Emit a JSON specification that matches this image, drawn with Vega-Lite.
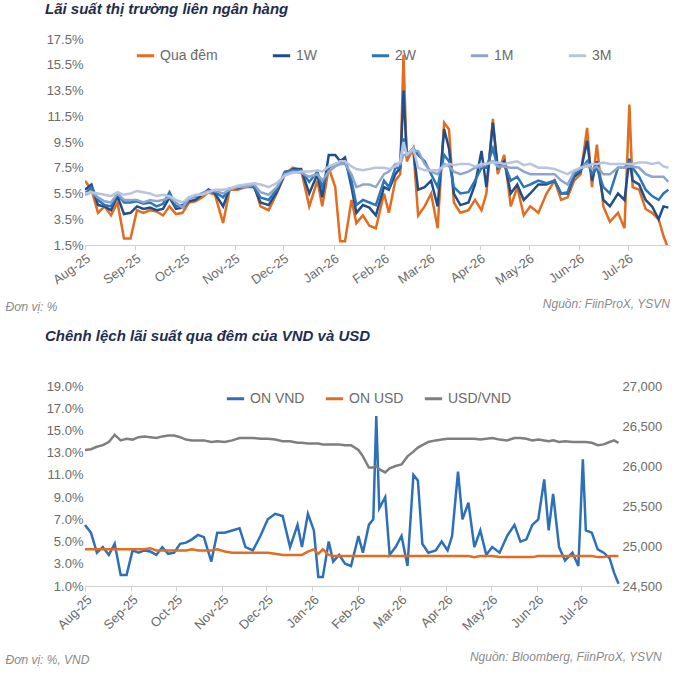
{
  "$schema": "https://vega.github.io/schema/vega-lite/v6.json",
  "padding": {"left": 5, "top": 2, "right": 5, "bottom": 0},
  "config": {
    "font": "Liberation Sans",
    "view": {"stroke": null},
    "axis": {"grid": false, "labelColor": "#6b6b6b", "labelFontSize": 13, "domainColor": "#d0d0d0", "tickColor": "#d0d0d0", "titleColor": "#8a8a8a", "titleFontWeight": "normal", "titleFontStyle": "italic", "titleFontSize": 12},
    "title": {"font": "Liberation Sans", "fontSize": 15, "fontStyle": "italic", "fontWeight": "bold", "color": "#1f2d4d"},
    "legend": {"labelFontSize": 14, "labelColor": "#6b6b6b", "symbolType": "stroke", "symbolStrokeWidth": 3, "symbolSize": 300}
  },
  "resolve": {"scale": {"color": "independent"}},
  "datasets": {
    "rates": [
      {"d":"2025-08-01","on":6.5,"w1":5.8,"w2":5.5,"m1":5.4,"m3":5.5,"usd":4.3,"fx":26200},
      {"d":"2025-08-05","on":5.8,"w1":6.2,"w2":6.0,"m1":5.6,"m3":5.6,"usd":4.3,"fx":26210},
      {"d":"2025-08-09","on":4.0,"w1":4.6,"w2":5.0,"m1":5.2,"m3":5.5,"usd":4.3,"fx":26240},
      {"d":"2025-08-13","on":4.5,"w1":4.5,"w2":4.6,"m1":4.9,"m3":5.4,"usd":4.3,"fx":26260},
      {"d":"2025-08-17","on":3.8,"w1":4.2,"w2":4.5,"m1":4.8,"m3":5.3,"usd":4.3,"fx":26300},
      {"d":"2025-08-21","on":4.8,"w1":5.3,"w2":5.5,"m1":5.5,"m3":5.6,"usd":4.3,"fx":26390},
      {"d":"2025-08-25","on":2.0,"w1":3.9,"w2":4.8,"m1":5.0,"m3":5.4,"usd":4.3,"fx":26320},
      {"d":"2025-08-29","on":2.0,"w1":4.0,"w2":4.8,"m1":5.0,"m3":5.5,"usd":4.3,"fx":26340},
      {"d":"2025-09-02","on":4.2,"w1":4.5,"w2":4.9,"m1":5.0,"m3":5.7,"usd":4.3,"fx":26330},
      {"d":"2025-09-06","on":4.0,"w1":4.3,"w2":4.7,"m1":4.8,"m3":5.6,"usd":4.3,"fx":26360},
      {"d":"2025-09-10","on":4.2,"w1":4.4,"w2":4.8,"m1":5.0,"m3":5.5,"usd":4.3,"fx":26370},
      {"d":"2025-09-14","on":4.1,"w1":4.2,"w2":4.5,"m1":4.9,"m3":5.3,"usd":4.4,"fx":26360},
      {"d":"2025-09-18","on":3.8,"w1":4.3,"w2":4.7,"m1":5.0,"m3":5.4,"usd":4.2,"fx":26350},
      {"d":"2025-09-22","on":4.5,"w1":5.2,"w2":5.6,"m1":5.2,"m3":5.3,"usd":4.2,"fx":26370},
      {"d":"2025-09-26","on":3.9,"w1":4.3,"w2":4.5,"m1":4.8,"m3":5.0,"usd":4.2,"fx":26380},
      {"d":"2025-09-30","on":4.0,"w1":4.4,"w2":4.6,"m1":4.4,"m3":4.8,"usd":4.2,"fx":26380},
      {"d":"2025-10-04","on":4.8,"w1":4.9,"w2":5.2,"m1":5.1,"m3":5.2,"usd":4.2,"fx":26360},
      {"d":"2025-10-08","on":4.9,"w1":5.0,"w2":5.2,"m1":5.3,"m3":5.4,"usd":4.2,"fx":26330},
      {"d":"2025-10-12","on":5.2,"w1":5.4,"w2":5.5,"m1":5.5,"m3":5.4,"usd":4.3,"fx":26320},
      {"d":"2025-10-16","on":5.6,"w1":5.8,"w2":5.7,"m1":5.7,"m3":5.6,"usd":4.2,"fx":26320},
      {"d":"2025-10-20","on":5.4,"w1":5.5,"w2":5.6,"m1":5.7,"m3":5.8,"usd":4.2,"fx":26320},
      {"d":"2025-10-25","on":3.2,"w1":4.5,"w2":5.2,"m1":5.5,"m3":5.8,"usd":4.2,"fx":26300},
      {"d":"2025-10-29","on":5.8,"w1":5.9,"w2":5.9,"m1":5.8,"m3":5.9,"usd":4.3,"fx":26310},
      {"d":"2025-11-03","on":5.8,"w1":5.9,"w2":6.0,"m1":6.0,"m3":6.1,"usd":4.1,"fx":26300},
      {"d":"2025-11-08","on":6.0,"w1":6.1,"w2":6.0,"m1":6.0,"m3":6.2,"usd":4.0,"fx":26320},
      {"d":"2025-11-13","on":6.2,"w1":6.0,"w2":6.0,"m1":6.2,"m3":6.3,"usd":4.0,"fx":26350},
      {"d":"2025-11-17","on":4.5,"w1":4.8,"w2":5.2,"m1":5.6,"m3":6.2,"usd":4.0,"fx":26350},
      {"d":"2025-11-22","on":4.2,"w1":4.6,"w2":5.0,"m1":5.4,"m3":6.0,"usd":4.0,"fx":26350},
      {"d":"2025-11-27","on":5.5,"w1":5.6,"w2":5.8,"m1":6.0,"m3":6.3,"usd":4.0,"fx":26340},
      {"d":"2025-12-02","on":7.0,"w1":7.0,"w2":7.2,"m1":7.0,"m3":6.9,"usd":4.0,"fx":26340},
      {"d":"2025-12-07","on":7.5,"w1":7.4,"w2":7.3,"m1":7.2,"m3":7.1,"usd":3.9,"fx":26330},
      {"d":"2025-12-12","on":7.3,"w1":7.4,"w2":7.3,"m1":7.1,"m3":7.2,"usd":3.8,"fx":26310},
      {"d":"2025-12-17","on":4.5,"w1":5.5,"w2":6.4,"m1":6.8,"m3":7.2,"usd":3.8,"fx":26310},
      {"d":"2025-12-22","on":6.5,"w1":7.0,"w2":7.2,"m1":7.0,"m3":7.3,"usd":3.8,"fx":26290},
      {"d":"2025-12-25","on":4.5,"w1":5.2,"w2":6.0,"m1":6.5,"m3":7.2,"usd":3.8,"fx":26290},
      {"d":"2025-12-29","on":7.5,"w1":8.5,"w2":7.5,"m1":7.2,"m3":7.6,"usd":4.1,"fx":26280},
      {"d":"2026-01-02","on":6.0,"w1":8.5,"w2":7.8,"m1":7.6,"m3":7.8,"usd":4.3,"fx":26280},
      {"d":"2026-01-05","on":1.8,"w1":8.0,"w2":7.8,"m1":7.8,"m3":8.0,"usd":3.9,"fx":26280},
      {"d":"2026-01-08","on":1.8,"w1":8.3,"w2":8.0,"m1":7.8,"m3":8.0,"usd":4.3,"fx":26270},
      {"d":"2026-01-12","on":5.0,"w1":6.0,"w2":6.5,"m1":7.0,"m3":7.6,"usd":3.8,"fx":26270},
      {"d":"2026-01-15","on":3.2,"w1":4.0,"w2":4.6,"m1":6.0,"m3":7.4,"usd":3.7,"fx":26270},
      {"d":"2026-01-19","on":3.8,"w1":4.6,"w2":5.0,"m1":6.2,"m3":7.3,"usd":3.7,"fx":26270},
      {"d":"2026-01-23","on":3.0,"w1":4.4,"w2":4.8,"m1":6.2,"m3":7.4,"usd":3.7,"fx":26260},
      {"d":"2026-01-27","on":2.8,"w1":3.8,"w2":4.6,"m1":6.0,"m3":7.5,"usd":3.7,"fx":26260},
      {"d":"2026-02-01","on":5.5,"w1":6.0,"w2":6.5,"m1":7.0,"m3":7.5,"usd":3.7,"fx":26200},
      {"d":"2026-02-04","on":4.0,"w1":5.8,"w2":6.0,"m1":7.2,"m3":7.4,"usd":3.7,"fx":26120},
      {"d":"2026-02-08","on":6.5,"w1":7.0,"w2":7.5,"m1":7.8,"m3":7.6,"usd":3.7,"fx":25980},
      {"d":"2026-02-11","on":7.0,"w1":7.5,"w2":7.5,"m1":7.8,"m3":8.0,"usd":3.7,"fx":25980},
      {"d":"2026-02-13","on":16.3,"w1":13.5,"w2":9.8,"m1":8.5,"m3":9.5,"usd":3.7,"fx":26000},
      {"d":"2026-02-15","on":8.0,"w1":8.5,"w2":8.5,"m1":8.5,"m3":8.5,"usd":3.7,"fx":25960},
      {"d":"2026-02-19","on":9.0,"w1":9.0,"w2":9.0,"m1":8.8,"m3":9.0,"usd":3.7,"fx":25920},
      {"d":"2026-02-22","on":3.8,"w1":5.8,"w2":8.5,"m1":8.8,"m3":7.5,"usd":3.7,"fx":25970},
      {"d":"2026-02-26","on":4.5,"w1":6.0,"w2":8.0,"m1":7.8,"m3":7.3,"usd":3.7,"fx":26000},
      {"d":"2026-03-02","on":5.5,"w1":6.5,"w2":7.0,"m1":7.2,"m3":7.3,"usd":3.7,"fx":26020},
      {"d":"2026-03-06","on":2.8,"w1":4.5,"w2":6.0,"m1":7.0,"m3":7.3,"usd":3.7,"fx":26120},
      {"d":"2026-03-10","on":11.0,"w1":10.5,"w2":8.5,"m1":7.8,"m3":7.6,"usd":3.7,"fx":26180},
      {"d":"2026-03-13","on":10.5,"w1":9.0,"w2":8.0,"m1":7.6,"m3":7.8,"usd":3.7,"fx":26230},
      {"d":"2026-03-16","on":4.8,"w1":5.5,"w2":6.0,"m1":7.2,"m3":7.7,"usd":3.7,"fx":26260},
      {"d":"2026-03-20","on":4.0,"w1":4.6,"w2":5.5,"m1":7.0,"m3":7.8,"usd":3.7,"fx":26300},
      {"d":"2026-03-25","on":4.2,"w1":4.8,"w2":5.6,"m1":7.2,"m3":7.8,"usd":3.7,"fx":26320},
      {"d":"2026-03-29","on":5.0,"w1":6.2,"w2":6.5,"m1":7.5,"m3":7.6,"usd":3.7,"fx":26330},
      {"d":"2026-04-02","on":4.2,"w1":8.8,"w2":7.5,"m1":7.6,"m3":7.8,"usd":3.7,"fx":26340},
      {"d":"2026-04-05","on":5.5,"w1":6.0,"w2":7.5,"m1":7.8,"m3":7.8,"usd":3.7,"fx":26340},
      {"d":"2026-04-09","on":11.3,"w1":11.0,"w2":9.0,"m1":8.0,"m3":7.9,"usd":3.7,"fx":26340},
      {"d":"2026-04-12","on":7.0,"w1":7.5,"w2":7.5,"m1":7.6,"m3":7.9,"usd":3.7,"fx":26340},
      {"d":"2026-04-16","on":8.5,"w1":8.0,"w2":7.8,"m1":7.6,"m3":7.8,"usd":3.7,"fx":26340},
      {"d":"2026-04-20","on":4.5,"w1":5.5,"w2":6.5,"m1":7.5,"m3":7.9,"usd":3.6,"fx":26340},
      {"d":"2026-04-24","on":6.0,"w1":6.2,"w2":6.8,"m1":7.5,"m3":8.0,"usd":3.7,"fx":26330},
      {"d":"2026-04-28","on":3.8,"w1":5.0,"w2":6.0,"m1":7.2,"m3":7.7,"usd":3.7,"fx":26340},
      {"d":"2026-05-02","on":4.5,"w1":5.5,"w2":6.2,"m1":7.0,"m3":7.8,"usd":3.7,"fx":26350},
      {"d":"2026-05-07","on":4.0,"w1":6.2,"w2":6.5,"m1":7.0,"m3":7.5,"usd":3.6,"fx":26330},
      {"d":"2026-05-12","on":5.5,"w1":6.2,"w2":6.3,"m1":7.0,"m3":7.5,"usd":3.6,"fx":26320},
      {"d":"2026-05-17","on":6.5,"w1":6.5,"w2":6.5,"m1":7.0,"m3":7.4,"usd":3.6,"fx":26350},
      {"d":"2026-05-21","on":5.0,"w1":5.5,"w2":5.5,"m1":6.5,"m3":7.2,"usd":3.6,"fx":26350},
      {"d":"2026-05-25","on":5.2,"w1":5.5,"w2":5.6,"m1":6.2,"m3":7.0,"usd":3.6,"fx":26340},
      {"d":"2026-05-29","on":6.5,"w1":6.8,"w2":7.0,"m1":7.2,"m3":7.3,"usd":3.6,"fx":26320},
      {"d":"2026-06-02","on":7.0,"w1":7.2,"w2":7.3,"m1":7.5,"m3":7.5,"usd":3.7,"fx":26330},
      {"d":"2026-06-06","on":10.6,"w1":9.6,"w2":8.0,"m1":7.8,"m3":7.6,"usd":3.7,"fx":26320},
      {"d":"2026-06-09","on":6.0,"w1":6.5,"w2":7.0,"m1":7.4,"m3":7.8,"usd":3.7,"fx":26310},
      {"d":"2026-06-12","on":9.3,"w1":8.0,"w2":7.5,"m1":7.6,"m3":7.8,"usd":3.7,"fx":26320},
      {"d":"2026-06-16","on":4.5,"w1":5.0,"w2":6.0,"m1":7.0,"m3":7.9,"usd":3.7,"fx":26300},
      {"d":"2026-06-20","on":3.3,"w1":4.5,"w2":5.5,"m1":7.0,"m3":7.8,"usd":3.7,"fx":26310},
      {"d":"2026-06-25","on":4.0,"w1":5.5,"w2":7.5,"m1":7.5,"m3":7.8,"usd":3.7,"fx":26300},
      {"d":"2026-06-29","on":2.8,"w1":5.0,"w2":7.5,"m1":7.5,"m3":7.8,"usd":3.7,"fx":26300},
      {"d":"2026-07-02","on":12.4,"w1":8.2,"w2":8.0,"m1":7.6,"m3":7.8,"usd":3.7,"fx":26300},
      {"d":"2026-07-04","on":6.0,"w1":6.5,"w2":7.5,"m1":7.6,"m3":7.8,"usd":3.7,"fx":26300},
      {"d":"2026-07-08","on":5.8,"w1":6.2,"w2":6.8,"m1":7.5,"m3":7.9,"usd":3.7,"fx":26290},
      {"d":"2026-07-12","on":4.3,"w1":5.0,"w2":5.8,"m1":7.0,"m3":7.9,"usd":3.6,"fx":26260},
      {"d":"2026-07-16","on":4.0,"w1":4.5,"w2":5.3,"m1":6.8,"m3":7.8,"usd":3.6,"fx":26270},
      {"d":"2026-07-20","on":3.5,"w1":3.5,"w2":5.0,"m1":6.8,"m3":7.9,"usd":3.7,"fx":26300},
      {"d":"2026-07-23","on":2.2,"w1":4.5,"w2":5.5,"m1":6.8,"m3":7.6,"usd":3.7,"fx":26320},
      {"d":"2026-07-26","on":1.2,"w1":4.4,"w2":5.8,"m1":6.4,"m3":7.5,"usd":3.7,"fx":26290}
    ]
  },
  "vconcat": [
    {
      "title": {"text": "Nguồn: FiinProX, YSVN", "orient": "bottom", "anchor": "end", "fontSize": 12, "fontWeight": "normal", "color": "#8a8a8a", "offset": -14},
      "resolve": {"scale": {"color": "independent"}},
      "vconcat": [
        {
          "title": {"text": "Lãi suất thị trường liên ngân hàng", "anchor": "start", "offset": 16, "dx": 40},
          "width": 585,
          "height": 206,
          "data": {"name": "rates"},
          "transform": [{"fold": ["on", "w1", "w2", "m1", "m3"], "as": ["s", "v"]}],
          "mark": {"type": "line", "strokeWidth": 2.5, "clip": true},
          "encoding": {
            "x": {"field": "d", "type": "temporal", "scale": {"domain": ["2025-08-01", "2026-07-27"]},
              "axis": {"format": "%b-%y", "tickCount": {"interval": "month", "step": 1}, "labelAngle": -35, "labelAlign": "right", "labelFontSize": 13, "title": "Đơn vị: %", "titleAnchor": "start", "titleX": -80, "titleAlign": "left", "titlePadding": 14}},
            "y": {"field": "v", "type": "quantitative", "scale": {"domain": [1.5, 17.5], "nice": false},
              "axis": {"values": [1.5, 3.5, 5.5, 7.5, 9.5, 11.5, 13.5, 15.5, 17.5], "labelExpr": "format(datum.value, '.1f') + '%'", "domain": false, "ticks": false, "title": null}},
            "color": {"field": "s", "type": "nominal",
              "scale": {"domain": ["on", "w1", "w2", "m1", "m3"], "range": ["#e36c1e", "#1f4e8c", "#2e75b6", "#8ea6cf", "#b9c4de"]},
              "legend": {"title": null, "orient": "none", "direction": "horizontal", "legendX": 50, "legendY": 6, "columnPadding": 48,
                "labelExpr": "{'on':'Qua đêm','w1':'1W','w2':'2W','m1':'1M','m3':'3M'}[datum.label]"}}
          }
        }
      ]
    },
    {
      "title": {"text": "Nguồn: Bloomberg, FiinProX, YSVN", "orient": "bottom", "anchor": "end", "fontSize": 12, "fontWeight": "normal", "color": "#8a8a8a", "offset": -14},
      "resolve": {"scale": {"color": "independent"}},
      "vconcat": [
        {
          "title": {"text": "Chênh lệch lãi suất qua đêm của VND và USD", "anchor": "start", "offset": 36, "dx": 40},
          "width": 535,
          "height": 200,
          "data": {"name": "rates"},
          "encoding": {
            "x": {"field": "d", "type": "temporal", "scale": {"domain": ["2025-08-01", "2026-07-27"]},
              "axis": {"format": "%b-%y", "tickCount": {"interval": "month", "step": 1}, "labelAngle": -45, "labelAlign": "right", "labelFontSize": 13, "title": "Đơn vị: %, VND", "titleAnchor": "start", "titleX": -80, "titleAlign": "left", "titlePadding": 22}}
          },
          "layer": [
            {
              "transform": [{"fold": ["on", "usd"], "as": ["s", "v"]}],
              "mark": {"type": "line", "strokeWidth": 2.5},
              "encoding": {
                "y": {"field": "v", "type": "quantitative", "scale": {"domain": [1, 19], "nice": false},
                  "axis": {"values": [1, 3, 5, 7, 9, 11, 13, 15, 17, 19], "labelExpr": "format(datum.value, '.1f') + '%'", "domain": false, "ticks": false, "title": null}},
                "color": {"field": "s", "type": "nominal",
                  "scale": {"domain": ["on", "usd", "fx"], "range": ["#2e6fba", "#e36c1e", "#7f7f7f"]},
                  "legend": {"title": null, "orient": "none", "direction": "horizontal", "legendX": 140, "legendY": 2, "columnPadding": 14,
                    "labelExpr": "{'on':'ON VND','usd':'ON USD','fx':'USD/VND'}[datum.label]"}}
              }
            },
            {
              "transform": [{"fold": ["fx"], "as": ["s", "v"]}],
              "mark": {"type": "line", "strokeWidth": 2.5},
              "encoding": {
                "y": {"field": "v", "type": "quantitative", "scale": {"domain": [24500, 27000], "nice": false},
                  "axis": {"orient": "right", "values": [24500, 25000, 25500, 26000, 26500, 27000], "labelExpr": "format(datum.value, ',')", "domain": false, "ticks": false, "title": null}},
                "color": {"field": "s", "type": "nominal"}
              }
            }
          ],
          "resolve": {"scale": {"y": "independent"}}
        }
      ]
    }
  ],
  "spacing": 16
}
